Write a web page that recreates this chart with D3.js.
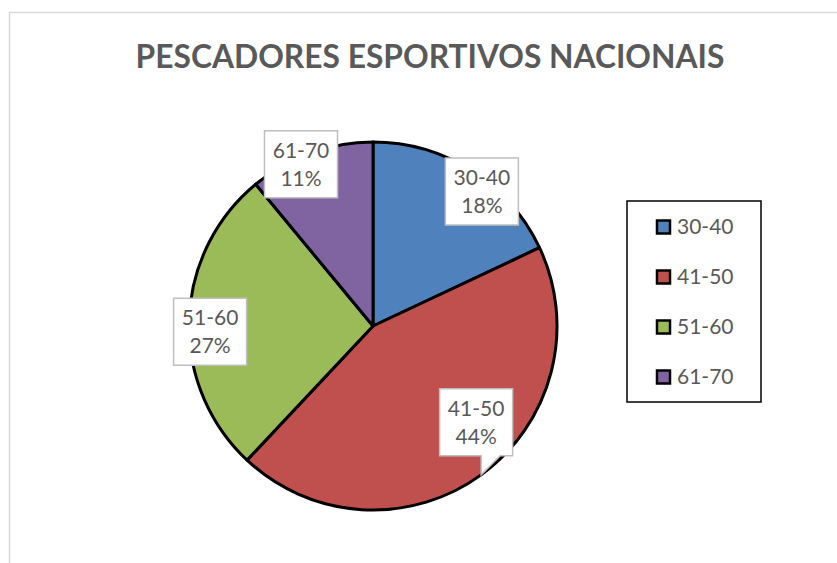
<!DOCTYPE html>
<html>
<head>
<meta charset="utf-8">
<script src="https://cdn.jsdelivr.net/npm/d3@7/dist/d3.min.js"></script>
<style>
  html, body { margin: 0; padding: 0; background: #fff; }
  svg { display: block; }
</style>
</head>
<body>
<svg id="chart" width="837" height="563"></svg>
<script>
// Age groups of national sport fishermen and their share (%)
const categories = ["30-40", "41-50", "51-60", "61-70"];
const values = [18, 44, 27, 11];
const colors = ["#4F81BD", "#C0504D", "#9BBB59", "#8064A2"];
const title = "PESCADORES ESPORTIVOS NACIONAIS";

// Label placement: angle (degrees from north, clockwise) and distance from centre,
// plus whether the label box carries a pointer to its slice.
const labelAngle = [39, 133, 268, 336];
const labelDist = [173, 141, 163, 177];
const labelCallout = [false, true, false, false];

const W = 837, H = 563;
const cx = 373, cy = 326, R = 184;
const textColor = "#595959";
const font = "Lato, 'Open Sans', sans-serif";

const svg = d3.select("#chart");

// outer chart frame
svg.append("rect")
  .attr("x", 9.5).attr("y", 12.5)
  .attr("width", W + 20).attr("height", H + 20)
  .attr("fill", "#fff")
  .attr("stroke", "#d9d9d9").attr("stroke-width", 1.5);

// title, fitted to its width
const t = svg.append("text")
  .attr("x", 430).attr("y", 68)
  .attr("text-anchor", "middle")
  .attr("font-family", font)
  .attr("font-weight", "bold")
  .attr("font-size", 32)
  .attr("fill", textColor)
  .text(title);
const tw = t.node().getComputedTextLength();
t.attr("font-size", 32 * 589 / tw);

// pie
const pie = d3.pie().sort(null).value(d => d.value);
const arcs = pie(categories.map((c, i) => ({ cat: c, value: values[i], i })));
const arc = d3.arc().innerRadius(0).outerRadius(R);

const g = svg.append("g").attr("transform", `translate(${cx},${cy})`);
g.selectAll("path.slice")
  .data(arcs)
  .join("path")
  .attr("class", "slice")
  .attr("d", arc)
  .attr("fill", d => colors[d.data.i])
  .attr("stroke", "#000")
  .attr("stroke-width", 3)
  .attr("stroke-linejoin", "round");

// data labels
const boxW = 73, boxH = 67;
const total = d3.sum(values);
arcs.forEach((d, i) => {
  const a = labelAngle[i] * Math.PI / 180;
  const lx = labelDist[i] * Math.sin(a);
  const ly = -labelDist[i] * Math.cos(a);
  const x0 = lx - boxW / 2, y0 = ly - boxH / 2, x1 = lx + boxW / 2, y1 = ly + boxH / 2;
  let p;
  if (labelCallout[i]) {
    const mid = (d.startAngle + d.endAngle) / 2;
    const tx = R * Math.sin(mid), ty = -R * Math.cos(mid);
    p = `M${x0},${y0}H${x1}V${y1}H${tx + 19}L${tx},${ty}V${y1}H${x0}Z`;
  } else {
    p = `M${x0},${y0}H${x1}V${y1}H${x0}Z`;
  }
  g.append("path")
    .attr("d", p)
    .attr("fill", "#fff")
    .attr("stroke", "#bfbfbf")
    .attr("stroke-width", 1.5);
  const pct = Math.round(d.data.value / total * 100) + "%";
  [d.data.cat, pct].forEach((s, k) => {
    g.append("text")
      .attr("x", lx)
      .attr("y", ly + (k === 0 ? -14 : 14))
      .attr("dy", "0.35em")
      .attr("text-anchor", "middle")
      .attr("font-family", font)
      .attr("font-size", 21)
      .attr("fill", textColor)
      .text(s);
  });
});

// legend
const lg = svg.append("g");
lg.append("rect")
  .attr("x", 627).attr("y", 201)
  .attr("width", 134).attr("height", 201)
  .attr("fill", "#fff")
  .attr("stroke", "#000").attr("stroke-width", 1.5);
categories.forEach((c, i) => {
  const yy = 227 + i * 50;
  lg.append("rect")
    .attr("x", 657).attr("y", yy - 6.5)
    .attr("width", 13).attr("height", 13)
    .attr("fill", colors[i])
    .attr("stroke", "#000").attr("stroke-width", 2.5);
  lg.append("text")
    .attr("x", 677).attr("y", yy)
    .attr("dy", "0.35em")
    .attr("font-family", font)
    .attr("font-size", 21)
    .attr("fill", textColor)
    .text(c);
});
</script>
</body>
</html>
